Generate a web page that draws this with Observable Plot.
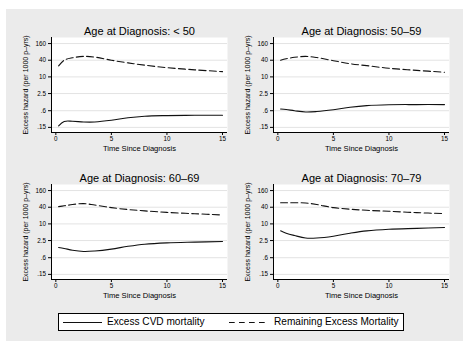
<!DOCTYPE html>
<html>
<head>
<meta charset="utf-8">
<script src="https://cdn.jsdelivr.net/npm/d3@7"></script>
<script src="https://cdn.jsdelivr.net/npm/@observablehq/plot@0.6"></script>
<style>
  html, body { margin: 0; padding: 0; background: #ffffff; }
  #page { position: relative; width: 463px; height: 341px; overflow: hidden; font-family: "Liberation Sans", Arial, sans-serif; }
  #bg { position: absolute; left: 6px; top: 9px; width: 457px; height: 332px; background: #ebebeb; }
  .panel { position: absolute; width: 225px; height: 147px; }
  .panel svg { display: block; }
  #legend { position: absolute; left: 58px; top: 313px; width: 344px; height: 16px; border: 1px solid #000; background: #fff; font-size: 10.1px; color: #000; }
  #legend .item { position: absolute; top: 0; height: 16px; line-height: 16px; white-space: nowrap; }
  #legend svg { position: absolute; top: 0; }
</style>
</head>
<body>
<div id="page">
  <div id="bg"></div>
  <div id="p0" class="panel" style="left:6px; top:9px;"></div>
  <div id="p1" class="panel" style="left:227.5px; top:9px;"></div>
  <div id="p2" class="panel" style="left:6px; top:156px;"></div>
  <div id="p3" class="panel" style="left:227.5px; top:156px;"></div>
  <div id="legend"></div>
</div>
<script>
// ---------- data ----------
const panelTitles = ["Age at Diagnosis: < 50", "Age at Diagnosis: 50–59", "Age at Diagnosis: 60–69", "Age at Diagnosis: 70–79"];
const seriesNames = ["Excess CVD mortality", "Remaining Excess Mortality"];
const xLabel = "Time Since Diagnosis";
const yLabel = "Excess hazard (per 1000 p–yrs)";
const xTicks = [0, 5, 10, 15];
const yTicks = [0.15, 0.6, 2.5, 10, 40, 160];
const yTickLabels = [".15", ".6", "2.5", "10", "40", "160"];
const xDomain = [-0.39, 15.45];
const yDomain = [0.098, 265];

const timeSinceDiagnosis = [0.25, 0.75, 1.5, 2.5, 3.5, 5, 6.5, 8, 10, 12.5, 15];

const cvdLt50       = [0.17, 0.245, 0.25, 0.235, 0.235, 0.27, 0.335, 0.38, 0.40, 0.41, 0.41];
const remainingLt50 = [25, 40, 49, 55, 52, 40, 32, 26.5, 21.5, 18, 15.5];
const cvd5059       = [0.69, 0.66, 0.60, 0.54, 0.56, 0.65, 0.80, 0.92, 0.99, 1.0, 1.0];
const remaining5059 = [40, 45, 51, 55, 50, 38.5, 30, 25.5, 20.5, 17.2, 14.7];
const cvd6069       = [1.41, 1.30, 1.12, 1.01, 1.05, 1.23, 1.55, 1.85, 2.07, 2.2, 2.31];
const remaining6069 = [42, 45, 50, 54, 48, 38.7, 33, 29.5, 26, 23.3, 21];
const cvd7079       = [5.6, 4.6, 3.8, 3.1, 3.1, 3.6, 4.6, 5.6, 6.4, 6.9, 7.4];
const remaining7079 = [58, 58, 58, 57, 50, 38.7, 34, 31, 28.6, 25.5, 23.5];

const cvdSeries = [cvdLt50, cvd5059, cvd6069, cvd7079];
const remainingSeries = [remainingLt50, remaining5059, remaining6069, remaining7079];

// ---------- drawing ----------
const font = "'Liberation Sans', Arial, sans-serif";

function rowsFor(values, name) {
  return timeSinceDiagnosis.map((t, i) => ({t, v: values[i], series: name}));
}

function panel(title, cvd, remaining) {
  return Plot.plot({
    width: 225, height: 147,
    marginLeft: 45, marginRight: 4, marginTop: 28, marginBottom: 24,
    style: {background: "transparent", fontFamily: font, fontSize: "6.3px", color: "#000", overflow: "visible"},
    x: {domain: xDomain},
    y: {type: "log", domain: yDomain},
    marks: [
      Plot.frame({fill: "#ffffff", stroke: null}),
      Plot.gridY(yTicks, {stroke: "#e3e3e3", strokeOpacity: 1, strokeWidth: 1}),
      Plot.line(rowsFor(cvd, seriesNames[0]), {x: "t", y: "v", curve: "catmull-rom", stroke: "#111", strokeWidth: 1.1}),
      Plot.line(rowsFor(remaining, seriesNames[1]), {x: "t", y: "v", curve: "catmull-rom", stroke: "#111", strokeWidth: 1.1, strokeDasharray: "7,3.3"}),
      Plot.ruleX([xDomain[0]], {stroke: "#000", strokeWidth: 1}),
      Plot.ruleY([yDomain[0]], {stroke: "#000", strokeWidth: 1}),
      Plot.axisX({ticks: xTicks, tickSize: 3, tickPadding: 1, label: null, fontSize: 6.3, stroke: "#000"}),
      Plot.axisY({ticks: yTicks, tickFormat: () => "", tickSize: 3, tickPadding: 3, label: null, stroke: "#000"}),
      Plot.text(yTicks, {y: d => d, text: (d, i) => yTickLabels[i], frameAnchor: "left", textAnchor: "end", dx: -5.5, fontSize: 6.3, fill: "#000"}),
      Plot.text([title], {text: d => d, frameAnchor: "top", lineAnchor: "bottom", dy: -3, fontSize: 11, fill: "#000"}),
      Plot.text([xLabel], {text: d => d, frameAnchor: "bottom", lineAnchor: "middle", dy: 16.5, fontSize: 7.6, fill: "#000"}),
      Plot.text([yLabel], {text: d => d, frameAnchor: "left", textAnchor: "middle", lineAnchor: "middle", rotate: -90, dx: -26, fontSize: 7, fill: "#000"})
    ]
  });
}

for (let k = 0; k < 4; k++) {
  document.getElementById("p" + k).appendChild(panel(panelTitles[k], cvdSeries[k], remainingSeries[k]));
}

// ---------- legend ----------
const legend = document.getElementById("legend");
const legendItems = [
  {name: seriesNames[0], dash: null, lineLeft: 4, textLeft: 48},
  {name: seriesNames[1], dash: "5.7,4.3", lineLeft: 170, textLeft: 215}
];
legendItems.forEach(it => {
  const svg = d3.create("svg").attr("width", 40).attr("height", 16).style("left", it.lineLeft + "px");
  svg.append("line").attr("x1", 0).attr("x2", 39).attr("y1", 8.5).attr("y2", 8.5)
    .attr("stroke", "#111").attr("stroke-width", 1.1).attr("stroke-dasharray", it.dash);
  legend.appendChild(svg.node());
  const span = document.createElement("div");
  span.className = "item";
  span.style.left = it.textLeft + "px";
  span.textContent = it.name;
  legend.appendChild(span);
});
</script>
</body>
</html>
